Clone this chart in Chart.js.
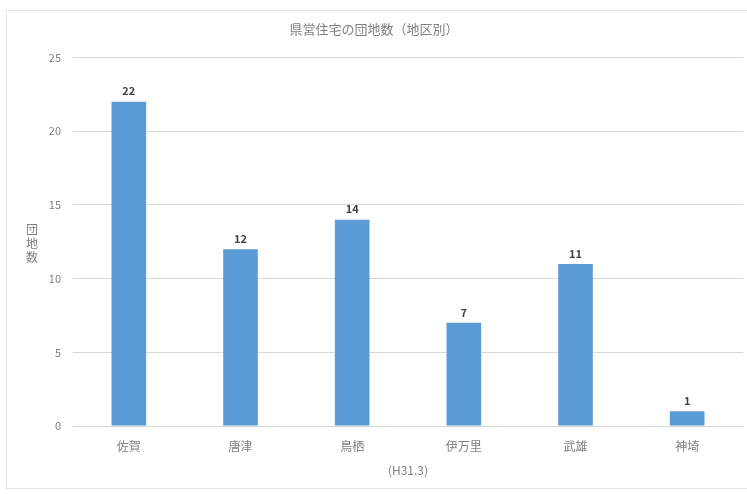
<!DOCTYPE html>
<html>
<head>
<meta charset="utf-8">
<script src="https://cdn.jsdelivr.net/npm/chart.js@4"></script>
<style>
  html, body { margin: 0; padding: 0; background: #fff; }
  #wrap { width: 747px; height: 494px; }
</style>
</head>
<body>
<div id="wrap"><canvas id="danchiChart" width="747" height="494"></canvas></div>
<script>
const areas = ['佐賀', '唐津', '鳥栖', '伊万里', '武雄', '神埼'];
const danchiCounts = [22, 12, 14, 7, 11, 1];
const yTicks = [0, 5, 10, 15, 20, 25];

const jpFont = '"Noto Sans CJK JP", "Noto Sans", sans-serif';

// light frame around the whole chart
const frame = {
  id: 'frame',
  beforeDraw(chart) {
    const ctx = chart.ctx;
    ctx.save();
    ctx.strokeStyle = '#e3e3e3';
    ctx.lineWidth = 1;
    ctx.strokeRect(6.5, 10.5, 745, 478);
    ctx.restore();
  }
};

// stacked vertical y title and the value labels over each bar
const extras = {
  id: 'extras',
  afterDatasetsDraw(chart) {
    const ctx = chart.ctx;
    ctx.save();
    ctx.fillStyle = '#7f7f7f';
    ctx.font = '12px ' + jpFont;
    ctx.textAlign = 'center';
    ctx.textBaseline = 'middle';
    ['団', '地', '数'].forEach((ch, i) => ctx.fillText(ch, 32, 229 + i * 14));

    ctx.fillStyle = '#404040';
    ctx.font = 'bold 11px ' + jpFont;
    ctx.textBaseline = 'bottom';
    chart.getDatasetMeta(0).data.forEach((bar, i) => {
      ctx.fillText(danchiCounts[i], bar.x, bar.y - 5);
    });
    ctx.restore();
  }
};

new Chart(document.getElementById('danchiChart'), {
  type: 'bar',
  data: {
    labels: areas,
    datasets: [{
      data: danchiCounts,
      backgroundColor: '#5b9bd5',
      categoryPercentage: 1,
      barPercentage: 0.31
    }]
  },
  options: {
    responsive: false,
    animation: false,
    layout: { padding: { left: 5, right: 4, top: 10, bottom: 6 } },
    plugins: {
      legend: { display: false },
      tooltip: { enabled: false },
      title: {
        display: true,
        text: '県営住宅の団地数（地区別）',
        color: '#7f7f7f',
        font: { family: jpFont, size: 13, weight: 'normal' },
        padding: { top: 11, bottom: 21 }
      }
    },
    scales: {
      x: {
        grid: { display: false, drawTicks: false },
        border: { color: '#d9d9d9' },
        ticks: { color: '#7f7f7f', font: { family: jpFont, size: 12 }, padding: 13 },
        title: {
          display: true,
          text: '(H31.3)',
          color: '#7f7f7f',
          font: { family: jpFont, size: 12 },
          padding: { top: 0, bottom: 10 }
        },
        afterFit(scale) { scale.height = 62; }
      },
      y: {
        min: 0,
        max: 25,
        afterBuildTicks(scale) { scale.ticks = yTicks.map(v => ({ value: v })); },
        grid: { color: '#d9d9d9', drawTicks: false },
        border: { display: false },
        ticks: { color: '#7f7f7f', font: { family: jpFont, size: 11 }, padding: 12 },
        afterFit(scale) { scale.width = 68; }
      }
    }
  },
  plugins: [frame, extras]
});
</script>
</body>
</html>
